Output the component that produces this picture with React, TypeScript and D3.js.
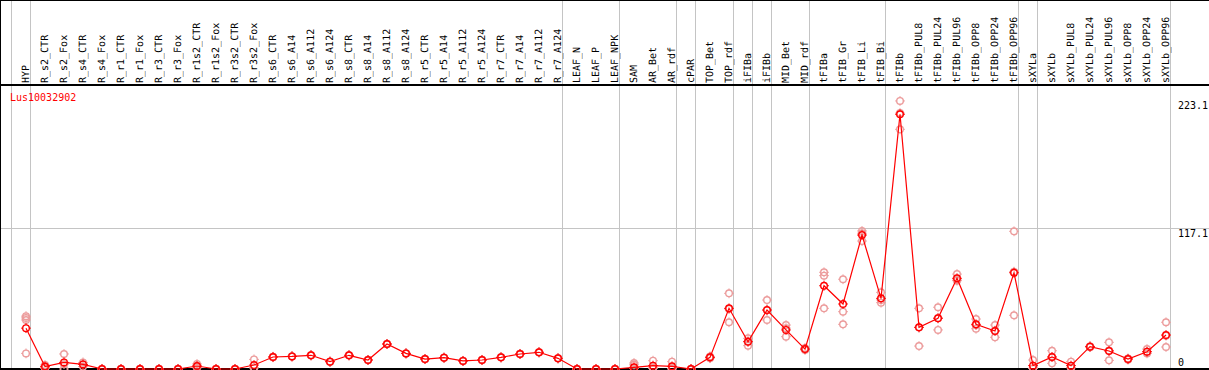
import React from "react";
import * as d3 from "d3";

const categories = [
  "HYP", "R_s2_CTR", "R_s2_Fox", "R_s4_CTR", "R_s4_Fox", "R_r1_CTR", "R_r1_Fox", "R_r3_CTR", "R_r3_Fox",
  "R_r1s2_CTR", "R_r1s2_Fox", "R_r3s2_CTR", "R_r3s2_Fox", "R_s6_CTR", "R_s6_A14", "R_s6_A112", "R_s6_A124",
  "R_s8_CTR", "R_s8_A14", "R_s8_A112", "R_s8_A124", "R_r5_CTR", "R_r5_A14", "R_r5_A112", "R_r5_A124",
  "R_r7_CTR", "R_r7_A14", "R_r7_A112", "R_r7_A124", "LEAF_N", "LEAF_P", "LEAF_NPK", "SAM", "AR_Bet", "AR_rdf",
  "cPAR", "TOP_Bet", "TOP_rdf", "iFIBa", "iFIBb", "MID_Bet", "MID_rdf", "tFIBa", "tFIB_Gr", "tFIB_Li", "tFIB_Bi",
  "tFIBb", "tFIBb_PUL8", "tFIBb_PUL24", "tFIBb_PUL96", "tFIBb_OPP8", "tFIBb_OPP24", "tFIBb_OPP96",
  "sXYLa", "sXYLb", "sXYLb_PUL8", "sXYLb_PUL24", "sXYLb_PUL96", "sXYLb_OPP8", "sXYLb_OPP24", "sXYLb_OPP96",
];

const means = [
  34, 2, 5.5, 3.8, 0, 0, 0, 0, 0,
  2.5, 0, 0, 3.3, 10, 10.5, 11.4, 6.1,
  11.4, 7.5, 20.8, 13, 8.3, 9.4, 6.7, 7.5,
  9.7, 12.5, 13.9, 8.9, 0, 0, 0, 1.4, 2.8, 2.2,
  0, 9.7, 50.5, 22.7, 49.1, 32.5, 16.6, 69.3, 54.1, 111.5, 58.8,
  212, 34.7, 42.2, 75.5, 37.2, 31.6, 80.1,
  2.8, 10, 2.8, 18.6, 15, 8.3, 14.4, 28.3,
];

const replicates = [
  [44, 42.5, 40.8, 13], [3.3, 1.5, 0.5], [12.5, 4, 0], [5.5, 4, 2], [0, 0, 0], [0, 0, 0], [0, 0, 0], [0, 0, 0], [0, 0, 0],
  [4.2, 2.5, 1], [0, 0, 0], [0, 0, 0], [8, 1, 1], [10.2, 9.8, 10], [10.5, 10.6, 10.4], [11.4, 11.5, 11.3], [6.1, 6, 6.2],
  [11.4, 11.5, 11.3], [7.5, 7.6, 7.4], [20.8, 20.9, 20.7], [13, 13.1, 12.9], [8.3, 8.4, 8.2], [9.4, 9.5, 9.3], [6.7, 6.8, 6.6], [7.5, 7.6, 7.4],
  [9.7, 9.8, 9.6], [12.5, 12.6, 12.4], [13.9, 14, 13.8], [8.9, 9, 8.8], [0, 0, 0], [0, 0, 0], [0, 0, 0], [5, 3.5, 0.5], [6.9, 1, 0.5], [6.1, 0.5, 0],
  [0, 0, 0], [10.5, 9, 9.6], [63, 38.9, 50], [25.5, 19.4, 23], [57.4, 40.8, 49], [36.6, 26.9, 34], [17.5, 15.8, 16.5],
  [80.5, 77.7, 50.5], [74.7, 47.7, 37.2], [114.9, 106.5, 113], [63.8, 55.2, 57.5],
  [223.1, 199.5, 213], [50.5, 19.1, 34.5], [51.4, 32.5, 42.5], [79, 74, 73.5], [41.6, 33.5, 36.5], [36.6, 26.4, 32], [114.6, 44.7, 81],
  [7.5, 0.5, 0.5], [15.2, 4.7, 10], [6.1, 1, 1.3], [19, 18.2, 18.6], [22.2, 7.2, 15.5], [8.8, 7.8, 8.3], [16.6, 13, 14.4], [38.9, 18.3, 27.7],
];

const groupStarts = [
  "HYP", "R_s2_CTR", "LEAF_N", "SAM", "cPAR", "TOP_Bet", "iFIBa", "iFIBb", "MID_Bet", "tFIBa", "tFIBb", "sXYLa", "sXYLb",
];

const yTicks = [0, 117.1, 223.1];
const geneName = "Lus10032902";

const W = 1209;
const H = 370;
const FONT = "'DejaVu Sans Mono', monospace";
const RED = "#ff0000";
const PINK = "#ec9c9c";
const GRID = "#c4c4c4";

function Marker({ x, y, color }: { x: number; y: number; color: string }) {
  const r = 3.3;
  const t = 1.6;
  return (
    <g stroke={color} fill="none">
      <circle cx={x} cy={y} r={r} strokeWidth={1.4} />
      <line x1={x} x2={x} y1={y - r - t} y2={y - r} strokeWidth={1} />
      <line x1={x} x2={x} y1={y + r} y2={y + r + t} strokeWidth={1} />
      <line x1={x - r - t} x2={x - r} y1={y} y2={y} strokeWidth={1} />
      <line x1={x + r} x2={x + r + t} y1={y} y2={y} strokeWidth={1} />
    </g>
  );
}

export default function App() {
  const x = d3.scaleBand<string>().domain(categories).range([11, 11 + categories.length * 19]).paddingInner(0).paddingOuter(0);
  const bw = x.bandwidth();
  const px = (c: string) => (x(c) as number) + bw * 0.79;
  const y = d3.scaleLinear().domain([0, 223.1]).range([369, 369 - 223.1 * 1.2015]);
  const headerY = 85;

  const line = d3
    .line<number>()
    .x((_, i) => px(categories[i]))
    .y((d) => y(d));

  const seps = groupStarts.map((g) => x(g) as number).concat([(x(categories[categories.length - 1]) as number) + bw]);

  return (
    <svg
      width={W}
      height={H}
      style={{ position: "fixed", left: 0, top: 0, background: "#fff" }}
      fontFamily={FONT}
      fontSize={10}
    >
      <rect x={0} y={0} width={W} height={H} fill="#fff" />
      {yTicks
        .filter((t) => t > 0 && t < 200)
        .map((t) => (
          <line key={t} x1={1} x2={W} y1={Math.round(y(t)) + 0.5} y2={Math.round(y(t)) + 0.5} stroke={GRID} strokeWidth={1} />
        ))}
      {seps.map((s, i) => (
        <line key={i} x1={Math.round(s) + 0.5} x2={Math.round(s) + 0.5} y1={0} y2={H} stroke={GRID} strokeWidth={1} />
      ))}
      <line x1={0} x2={W} y1={0.5} y2={0.5} stroke="#000" strokeWidth={1} />
      <line x1={0.5} x2={0.5} y1={0} y2={H} stroke="#000" strokeWidth={1} />
      <line x1={0} x2={W} y1={85} y2={85} stroke="#000" strokeWidth={2} />
      <line x1={0} x2={W} y1={369} y2={369} stroke="#000" strokeWidth={2} />
      {categories.map((c) => (
        <text
          key={c}
          transform={`translate(${Math.round(px(c)) + 3},${headerY - 2}) rotate(-90)`}
          fill="#000"
          textRendering="geometricPrecision"
        >
          {c}
        </text>
      ))}
      <text x={10} y={101} fill={RED}>
        {geneName}
      </text>
      {yTicks.map((t) => (
        <text key={t} x={1178} y={t === 0 ? y(t) - 3 : y(t) + 8.5} fill="#000">
          {t === 0 ? "0" : t.toFixed(1)}
        </text>
      ))}
      {replicates.map((reps, i) =>
        reps.map((v, j) => <Marker key={`${i}-${j}`} x={px(categories[i])} y={y(v)} color={PINK} />)
      )}
      <path d={line(means) || ""} fill="none" stroke={RED} strokeWidth={1.2} />
      {means.map((v, i) => (
        <Marker key={i} x={px(categories[i])} y={y(v)} color={RED} />
      ))}
    </svg>
  );
}
